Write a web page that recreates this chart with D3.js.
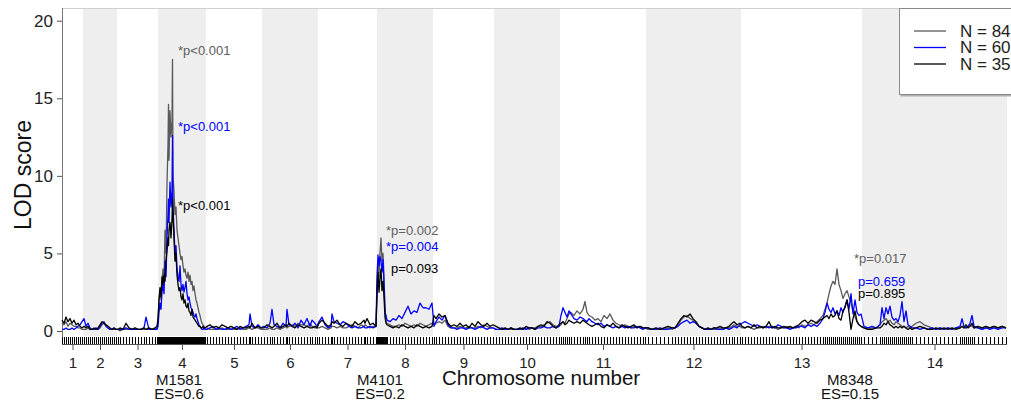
<!DOCTYPE html>
<html><head><meta charset="utf-8">
<script src="https://cdn.jsdelivr.net/npm/d3@7"></script>
<style>
html,body{margin:0;padding:0;background:#fff;overflow:hidden}
text{font-family:"Liberation Sans",Arial,Helvetica,sans-serif}
</style></head><body>
<svg id="chart" width="1011" height="403"></svg>
<script>
// ---------------- data ----------------
const chromosomes = ["1","2","3","4","5","6","7","8","9","10","11","12","13","14"];
const chromLengths = [21,34,41,48,56,56,59,56,61,66,86,95,121,145];

const positions = [
 0,2,4,6,8,10,12,14,16,18,20,
 22,24,26,28,30,32,34,36,38,40,42,44,46,48,50,52,54,
 56,58,61,64,67,70,73,76,79,82,84,87,90,93,95,
 96,97,98,99,100,101,102,103,104,105,106,106.5,107,108,109,110,110.5,111,112,113,114,115,116,117,118,119,120,121,122,123,124,125,126,127,128,129,130,131,132,133,134,135,136,137,138,139,140,141,142,143,
 145,148,151,154,157,160,163,166,169,172,175,178,181,184,187,188,190,193,196,199,
 202,205,208,210,212,215,218,221,224,225,227,230,233,236,239,242,245,248,250,253,255,
 257,260,263,266,269,270,272,275,278,281,284,287,290,293,296,299,302,303,305,308,311,314,
 315,316,317,318,319,320,321,322,323,324,325,328,331,334,337,340,343,346,349,352,355,358,361,364,367,370,
 372,374,377,380,383,386,389,392,395,398,401,404,407,410,413,416,419,422,425,428,431,
 434,437,440,443,446,449,452,455,458,461,464,467,470,473,476,479,482,485,488,491,494,497,
 499,501,503,505,507,509,512,515,518,521,523,525,527,530,533,536,539,542,545,548,551,554,557,560,563,566,569,572,575,578,581,583,
 586,590,594,598,602,606,610,613,616,619,622,625,628,631,634,637,640,643,646,649,652,655,658,661,664,667,670,672,675,678,
 680,683,686,689,692,695,698,701,704,707,710,713,716,719,722,725,728,731,734,737,740,743,746,749,752,755,758,761,763,765,767,769,771,773,775,777,779,781,783,785,787,789,791,793,795,797,799,
 802,806,810,814,818,820,822,824,826,828,830,832,834,836,838,840,842,844,846,848,850,854,858,862,866,870,874,878,882,886,890,894,898,900,902,904,906,908,910,912,916,920,924,928,932,936,940,944
];

const lodN84 = [
 0.5,0.4,0.6,0.3,0.5,0.4,0.3,0.3,0.2,0.2,0.1,
 0.1,0.1,0.2,0.1,0.1,0.1,0.2,0.1,0.2,0.4,0.5,0.3,0.2,0.1,0.1,0.1,0.1,
 0.1,0.0,0.1,0.1,0.1,0.1,0.1,0.1,0.1,0.1,0.1,0.1,0.1,0.1,0.2,
 0.6,2.0,2.6,2.0,3.2,4.0,3.0,6.5,5.0,9.5,12.0,14.6,11.0,14.2,12.5,13.5,17.5,10.0,9.0,7.5,8.0,6.5,6.0,5.5,5.0,4.6,4.8,4.2,3.8,4.0,3.6,3.4,3.8,3.2,3.6,3.0,3.2,2.6,2.9,2.4,2.0,1.8,1.5,1.2,1.0,0.7,0.5,0.4,0.3,0.2,
 0.2,0.1,0.1,0.1,0.1,0.2,0.1,0.1,0.1,0.1,0.1,0.2,0.1,0.1,0.2,0.2,0.1,0.2,0.2,0.1,
 0.1,0.1,0.2,0.1,0.1,0.2,0.1,0.2,0.3,0.2,0.3,0.4,0.3,0.5,0.4,0.4,0.3,0.5,0.3,0.2,0.2,
 0.2,0.3,0.2,0.1,0.2,0.3,0.3,0.2,0.3,0.2,0.2,0.3,0.4,0.3,0.2,0.4,0.3,0.4,0.3,0.2,0.3,0.3,
 2.5,4.2,3.5,5.0,6.0,4.5,5.0,3.5,1.5,0.6,0.5,0.4,0.3,0.3,0.4,0.3,0.5,0.4,0.3,0.4,0.3,0.5,0.4,0.3,0.4,0.5,
 0.4,0.5,0.6,0.5,0.7,0.3,0.2,0.2,0.2,0.3,0.2,0.2,0.3,0.2,0.2,0.3,0.2,0.4,0.3,0.2,0.2,
 0.1,0.1,0.1,0.1,0.1,0.1,0.1,0.1,0.1,0.1,0.2,0.1,0.2,0.2,0.3,0.3,0.4,0.5,0.6,0.4,0.3,0.3,
 0.4,0.6,0.5,0.8,1.1,1.2,1.0,1.3,1.1,1.4,1.9,1.2,1.0,0.9,0.7,0.8,0.6,1.0,0.8,1.1,0.7,0.5,0.4,0.3,0.4,0.3,0.2,0.3,0.2,0.3,0.2,0.2,
 0.1,0.1,0.1,0.1,0.1,0.2,0.1,0.2,0.4,0.7,0.9,1.0,0.8,0.7,0.5,0.3,0.2,0.1,0.1,0.1,0.1,0.1,0.2,0.1,0.2,0.2,0.3,0.4,0.3,0.3,
 0.2,0.2,0.3,0.2,0.1,0.2,0.2,0.3,0.2,0.3,0.2,0.2,0.1,0.2,0.2,0.3,0.2,0.2,0.3,0.2,0.4,0.3,0.4,0.5,0.4,0.6,0.8,1.0,1.4,1.8,2.4,2.9,3.2,3.0,4.0,3.0,2.6,2.1,2.4,2.6,2.2,1.8,1.3,0.9,0.6,0.4,0.3,
 0.2,0.1,0.2,0.2,0.4,0.6,0.7,0.8,0.6,0.7,0.5,0.4,0.6,0.5,0.4,0.3,0.3,0.2,0.3,0.2,0.3,0.5,0.6,0.4,0.3,0.2,0.1,0.2,0.1,0.2,0.1,0.2,0.2,0.3,0.2,0.2,0.3,0.4,0.3,0.2,0.2,0.1,0.2,0.2,0.3,0.2,0.3,0.2
];

const lodN60 = [
 0.1,0.1,0.2,0.1,0.1,0.2,0.1,0.2,0.3,0.4,0.6,
 0.8,0.3,0.5,0.2,0.1,0.1,0.2,0.1,0.3,0.5,0.6,0.3,0.2,0.1,0.1,0.2,0.1,
 0.1,0.1,0.1,0.2,0.1,0.1,0.1,0.1,0.1,0.2,0.9,0.1,0.1,0.1,0.1,
 0.3,1.2,1.8,1.4,2.5,3.0,2.4,4.5,3.5,6.0,7.5,8.5,7.0,9.6,8.0,9.0,12.6,8.0,6.5,5.0,5.5,4.0,3.5,3.2,4.2,3.0,2.6,3.0,2.5,2.8,3.2,2.4,2.0,2.2,1.8,1.5,1.4,1.2,1.0,0.9,1.1,0.8,0.6,0.4,0.3,0.2,0.1,0.1,0.2,0.1,
 0.1,0.2,0.3,0.1,0.2,0.1,0.1,0.2,0.1,0.2,0.3,0.1,0.2,0.3,0.4,1.1,0.3,0.2,0.4,0.2,
 0.3,0.2,0.5,1.4,0.4,0.3,0.2,0.5,0.3,1.4,0.4,0.3,0.5,0.2,0.7,0.4,0.8,0.3,0.7,0.5,0.3,
 0.6,0.9,0.4,0.2,0.3,1.1,0.6,0.5,0.4,0.6,0.5,0.3,0.2,0.3,0.2,0.2,0.3,0.2,0.2,0.3,0.2,0.3,
 3.5,4.9,4.2,4.8,4.5,3.8,4.6,3.0,1.2,1.0,0.7,0.6,0.8,0.7,1.0,0.8,1.2,1.6,1.1,1.3,1.2,1.8,1.5,1.5,1.4,1.8,
 0.3,0.6,0.9,0.7,1.0,0.4,0.2,0.2,0.1,0.2,0.2,0.1,0.2,0.2,0.1,0.2,0.3,0.2,0.1,0.2,0.2,
 0.1,0.1,0.2,0.1,0.1,0.2,0.1,0.1,0.1,0.2,0.1,0.2,0.2,0.1,0.2,0.2,0.3,0.2,0.2,0.3,0.2,0.3,
 1.0,1.5,1.2,0.9,1.3,1.1,0.8,0.7,0.9,0.8,0.7,0.6,0.8,0.6,0.5,0.4,0.5,0.3,0.4,0.3,0.2,0.3,0.2,0.3,0.2,0.3,0.2,0.2,0.3,0.2,0.1,0.2,
 0.2,0.1,0.1,0.2,0.1,0.1,0.2,0.2,0.3,0.5,0.6,0.7,0.5,0.6,0.5,0.3,0.2,0.1,0.1,0.1,0.2,0.1,0.1,0.1,0.2,0.1,0.2,0.3,0.2,0.4,
 0.5,0.6,0.5,0.4,0.3,0.4,0.3,0.2,0.3,0.2,0.3,0.2,0.4,0.3,0.2,0.2,0.1,0.2,0.2,0.3,0.3,0.2,0.4,0.3,0.4,0.3,0.5,0.8,1.2,1.8,1.4,1.2,1.5,1.1,1.3,1.0,1.5,1.2,1.6,2.0,1.4,2.4,1.1,2.0,1.2,1.0,1.1,
 0.3,0.2,0.3,0.2,0.4,1.5,0.8,1.5,1.1,1.6,0.9,0.7,0.8,0.6,1.0,1.9,0.6,1.3,0.4,0.3,0.2,0.2,0.1,0.2,0.1,0.2,0.1,0.2,0.1,0.2,0.1,0.2,0.3,0.8,0.3,0.2,0.3,0.5,1.0,0.3,0.2,0.1,0.2,0.1,0.2,0.1,0.2,0.2
];

const lodN35 = [
 0.7,0.5,0.9,0.6,0.8,0.5,0.7,0.4,0.5,0.3,0.2,
 0.3,0.2,0.3,0.1,0.1,0.2,0.1,0.2,0.4,0.6,0.5,0.4,0.3,0.2,0.1,0.2,0.1,
 0.1,0.2,0.1,0.5,0.2,0.1,0.2,0.1,0.1,0.2,0.1,0.2,0.1,0.2,0.3,
 0.8,2.0,2.8,2.2,3.5,3.0,3.6,3.2,4.5,5.2,6.0,5.5,6.5,7.0,6.0,7.2,8.5,7.5,6.0,4.5,5.0,3.6,3.0,2.6,2.8,2.2,2.0,2.4,1.8,2.0,1.6,1.5,1.8,1.3,1.2,1.0,1.4,0.9,0.8,0.7,0.6,0.5,0.4,0.3,0.3,0.2,0.2,0.3,0.2,0.2,
 0.3,0.4,0.2,0.3,0.2,0.4,0.3,0.2,0.3,0.2,0.1,0.3,0.2,0.2,0.3,0.2,0.5,0.2,0.3,0.2,
 0.2,0.4,0.3,0.2,0.3,0.5,0.2,0.3,0.4,0.3,0.5,0.3,0.2,0.4,0.3,0.2,0.3,0.2,0.2,0.3,0.2,
 0.5,0.7,0.5,0.3,0.4,0.6,0.5,0.7,0.4,0.3,0.5,0.4,0.3,0.6,0.4,0.5,0.7,0.5,0.8,0.4,0.5,0.3,
 2.3,3.8,2.5,3.4,4.0,2.6,3.2,2.2,0.9,0.5,0.4,0.3,0.2,0.3,0.2,0.4,0.3,0.2,0.3,0.2,0.4,0.3,0.2,0.3,0.2,0.3,
 1.0,0.8,1.1,0.9,1.0,0.5,0.3,0.4,0.3,0.5,0.3,0.4,0.2,0.5,0.3,0.6,0.4,0.3,0.5,0.3,0.4,
 0.3,0.2,0.1,0.2,0.1,0.2,0.1,0.1,0.2,0.1,0.3,0.2,0.2,0.1,0.3,0.4,0.3,0.6,0.5,0.3,0.2,0.4,
 0.5,0.6,0.4,0.5,0.7,0.6,0.5,0.6,0.5,0.7,0.6,0.5,0.4,0.3,0.4,0.5,0.3,0.2,0.4,0.3,0.5,0.3,0.2,0.4,0.3,0.2,0.3,0.4,0.2,0.3,0.2,0.2,
 0.2,0.1,0.2,0.1,0.2,0.3,0.2,0.2,0.5,0.8,1.0,0.9,1.1,0.8,0.6,0.3,0.2,0.1,0.2,0.1,0.2,0.2,0.3,0.2,0.2,0.3,0.5,0.6,0.4,0.5,
 0.3,0.2,0.3,0.2,0.4,0.2,0.3,0.2,0.3,0.6,0.2,0.3,0.2,0.2,0.3,0.2,0.3,0.2,0.3,0.4,0.6,0.7,0.5,0.7,0.6,0.5,0.7,0.8,0.9,1.0,0.8,1.1,0.9,1.0,1.3,0.8,0.7,1.3,1.5,2.0,1.2,0.1,0.8,1.3,0.6,0.4,0.3,
 0.2,0.1,0.1,0.2,0.2,0.3,0.5,0.4,0.6,0.4,0.3,0.2,0.3,0.2,0.3,0.2,0.3,0.2,0.1,0.2,0.1,0.2,0.3,0.2,0.1,0.1,0.2,0.1,0.2,0.1,0.2,0.1,0.2,0.3,0.2,0.4,0.2,0.3,0.5,0.2,0.3,0.2,0.3,0.2,0.3,0.2,0.3,0.2
];

const seriesNames = ["N = 84","N = 60","N = 35"];
const seriesColors = ["#5a5a5a","#0000ff","#000000"];
const yTicks = [0,5,10,15,20];

// p-value annotations
const annotSeries = [0,1,2, 0,1,2, 0,1,2];
const annotText = ["*p<0.001","*p<0.001","*p<0.001","*p=0.002","*p=0.004","p=0.093","*p=0.017","p=0.659","p=0.895"];
const annotPos = [116,116,116, 324,324,329, 792,796,796];
const annotLod = [17.8,12.9,7.8, 6.2,5.15,3.75, 4.4,2.9,2.15];

// marker labels
const markerNames = ["M1581","M4101","M8348"];
const markerEffect = ["ES=0.6","ES=0.2","ES=0.15"];
const markerPos = [117,318,788];

// ---------------- drawing ----------------
const svg = d3.select("#chart");
const total = d3.sum(chromLengths);
const x = d3.scaleLinear().domain([0,total]).range([62,1007]);
const y = d3.scaleLinear().domain([0,20]).range([331,20.7]);
const plotTop = 8, rugTop = 337, axisY = 344;
const starts = Array.from(d3.cumsum([0, ...chromLengths]));
const mids = chromLengths.map((l,i)=>starts[i]+l/2);

// alternating bands
svg.append("g").selectAll("rect").data(chromLengths).join("rect")
  .attr("x",(d,i)=>x(starts[i])).attr("y",plotTop)
  .attr("width",(d,i)=>x(starts[i+1])-x(starts[i]))
  .attr("height",rugTop-1-plotTop)
  .attr("fill",(d,i)=> i%2===1 ? "#eeeeee" : "none");

// frame
svg.append("line").attr("x1",62).attr("x2",1011).attr("y1",plotTop+0.5).attr("y2",plotTop+0.5)
  .attr("stroke","#cfcfcf");
svg.append("line").attr("x1",62.5).attr("x2",62.5).attr("y1",plotTop).attr("y2",axisY)
  .attr("stroke","#777");

// rug
svg.append("g").attr("shape-rendering","crispEdges").selectAll("line").data(positions).join("line")
  .attr("x1",d=>x(d)).attr("x2",d=>x(d)).attr("y1",rugTop).attr("y2",axisY)
  .attr("stroke","#000").attr("stroke-width",1);
svg.append("line").attr("x1",62).attr("x2",1007).attr("y1",axisY+0.5).attr("y2",axisY+0.5)
  .attr("stroke","#555");

// axes
const xAxis = svg.append("g").attr("transform",`translate(0,${axisY})`)
  .call(d3.axisBottom(x).tickValues(mids).tickFormat((d,i)=>chromosomes[i]).tickSize(6).tickPadding(7));
xAxis.select(".domain").remove();
xAxis.selectAll("line").attr("stroke","#555");
xAxis.selectAll("text").attr("font-size",15).attr("fill","#222").style("font-family","'Liberation Sans',Arial,sans-serif");

const yAxis = svg.append("g").attr("transform","translate(62,0)")
  .call(d3.axisLeft(y).tickValues(yTicks).tickSize(5).tickPadding(4));
yAxis.select(".domain").remove();
yAxis.selectAll("line").attr("stroke","#555");
yAxis.selectAll("text").attr("font-size",17).attr("fill","#222").style("font-family","'Liberation Sans',Arial,sans-serif");

// curves
const series = [lodN84, lodN60, lodN35];
const line = d3.line().x(d=>x(d[0])).y(d=>y(d[1]));
series.forEach((vals,si)=>{
  const pts = positions.map((p,i)=>[p, vals[i]]);
  svg.append("path").datum(pts).attr("d",line)
    .attr("fill","none").attr("stroke",seriesColors[si]).attr("stroke-width",1.3)
    .attr("stroke-linejoin","round");
});

// annotations
svg.append("g").selectAll("text").data(annotText).join("text")
  .attr("x",(d,i)=>x(annotPos[i])).attr("y",(d,i)=>y(annotLod[i]))
  .attr("font-size",13).attr("fill",(d,i)=>seriesColors[annotSeries[i]]==="#5a5a5a"?"#606060":seriesColors[annotSeries[i]])
  .text(d=>d);

// axis titles
svg.append("text").attr("transform","translate(31,175) rotate(-90)")
  .attr("text-anchor","middle").attr("font-size",23).attr("fill","#111").text("LOD score");
svg.append("text").attr("x",541).attr("y",385).attr("text-anchor","middle")
  .attr("font-size",20.5).attr("fill","#111").text("Chromosome number");

// marker labels
svg.append("g").selectAll("text").data(markerNames).join("text")
  .attr("x",(d,i)=>x(markerPos[i])).attr("y",385).attr("text-anchor","middle")
  .attr("font-size",15).attr("fill","#111").text(d=>d);
svg.append("g").selectAll("text").data(markerEffect).join("text")
  .attr("x",(d,i)=>x(markerPos[i])).attr("y",398.5).attr("text-anchor","middle")
  .attr("font-size",15).attr("fill","#111").text(d=>d);

// legend
const lg = svg.append("g");
lg.append("rect").attr("x",900.5).attr("y",9.5).attr("width",140).attr("height",87)
  .attr("fill","#b0b0b0");
lg.append("rect").attr("x",899.5).attr("y",8.5).attr("width",140).attr("height",86)
  .attr("fill","#fff").attr("stroke","#8a8a8a");
seriesNames.forEach((n,i)=>{
  const yy = 31 + i*16.5;
  lg.append("line").attr("x1",914).attr("x2",946).attr("y1",yy).attr("y2",yy)
    .attr("stroke",seriesColors[i]).attr("stroke-width",1.3);
  lg.append("text").attr("x",960).attr("y",yy).attr("dy","0.35em")
    .attr("font-size",17).attr("fill","#222").text(n);
});
</script>
</body></html>
